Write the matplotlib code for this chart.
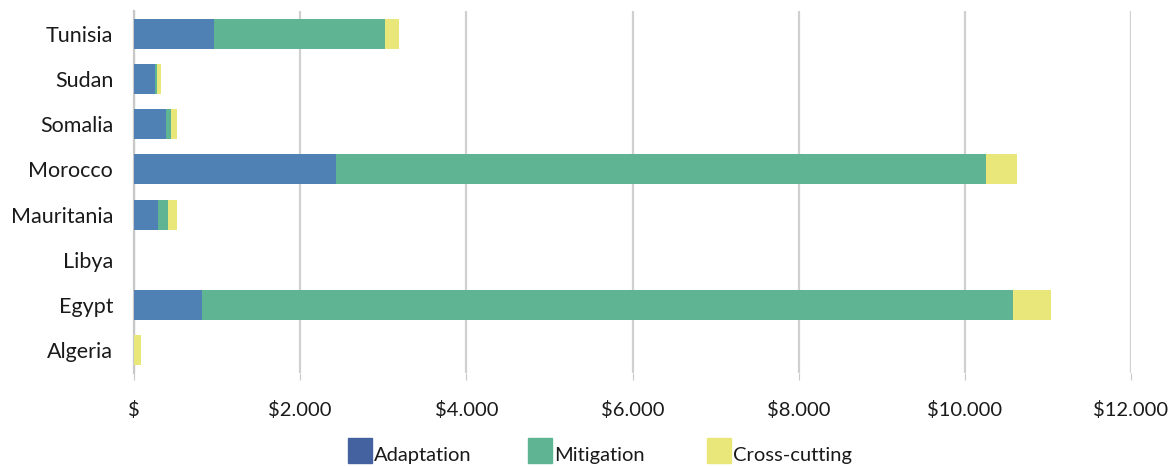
import matplotlib
matplotlib.use("Agg")
import matplotlib.pyplot as plt
from matplotlib.patches import Rectangle

# data (USD)
countries = ["Algeria", "Egypt", "Libya", "Mauritania", "Morocco", "Somalia", "Sudan", "Tunisia"]
adaptation = [0, 818, 0, 289, 2430, 385, 253, 963]
mitigation = [0, 9760, 0, 120, 7820, 60, 24, 2057]
crosscut = [84, 458, 0, 108, 375, 72, 48, 170]
xticks = [0, 2000, 4000, 6000, 8000, 10000, 12000]
xticklabels = ["$", "$2.000", "$4.000", "$6.000", "$8.000", "$10.000", "$12.000"]

col_adapt = "#4f81b5"
col_mit = "#5fb593"
col_cross = "#e9e77a"
col_adapt_leg = "#4562a0"

plt.rcParams['font.family'] = ['Lato', 'DejaVu Sans']

fig = plt.figure(figsize=(11.7, 4.66), dpi=100)
ax = fig.add_axes([134/1170, 1-373/466, (1131-134)/1170, (373-11)/466])

y = list(range(len(countries)))
left2 = [a for a in adaptation]
left3 = [a + m for a, m in zip(adaptation, mitigation)]
ax.barh(y, adaptation, height=0.66, color=col_adapt, zorder=3)
ax.barh(y, mitigation, left=left2, height=0.66, color=col_mit, zorder=3)
ax.barh(y, crosscut, left=left3, height=0.66, color=col_cross, zorder=3)

ax.set_xlim(0, 12000)
ax.set_ylim(-0.5, 7.5)
ax.set_yticks(y)
ax.set_yticklabels(countries, fontsize=15.5, color="#1a1a1a")
ax.set_xticks(xticks)
ax.set_xticklabels(xticklabels, fontsize=14.5, color="#1a1a1a")
ax.tick_params(axis="y", length=0, pad=15)
ax.tick_params(axis="x", length=5, color="#c8c8c8", pad=15, direction="out")
ax.xaxis.grid(True, color="#d0d0d0", linewidth=1.6, zorder=0)
for s in ["top", "right", "bottom"]:
    ax.spines[s].set_visible(False)
ax.spines["left"].set_color("#c8c8c8")
ax.spines["left"].set_linewidth(1.6)

# legend drawn by hand at the bottom
legend_items = [("Adaptation", col_adapt_leg, 348), ("Mitigation", col_mit, 528), ("Cross-cutting", col_cross, 707)]
for name, c, px in legend_items:
    fig.patches.append(Rectangle((px/1170, 1-463/466), 24/1170, 25/466,
                                 transform=fig.transFigure, color=c, figure=fig))
    fig.text((px+26)/1170, 1-461/466, name, fontsize=14.5, color="#1a1a1a",
             ha="left", va="baseline")

fig.savefig("out.png", dpi=100)
